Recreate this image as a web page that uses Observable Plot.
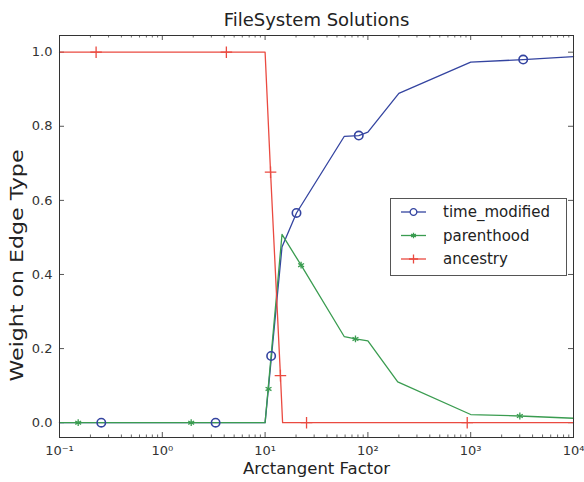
<!DOCTYPE html>
<html><head><meta charset="utf-8">
<script src="https://cdn.jsdelivr.net/npm/d3@7"></script>
<script src="https://cdn.jsdelivr.net/npm/@observablehq/plot@0.6"></script>
<style>body{margin:0;background:#fff;}</style>
</head><body><div id="chart"></div>
<script>
const title = "FileSystem Solutions";
const xLabel = "Arctangent Factor";
const yLabel = "Weight on Edge Type";
const seriesNames = ["time_modified", "parenthood", "ancestry"];
const seriesColors = ["#3444a0", "#3a9c50", "#ea4a40"];
const seriesSymbols = ["circle", "asterisk", "plus"];

// time_modified
const timeModifiedX = [0.1, 10, 14.6, 20.2, 59, 81.5, 100, 200, 1000, 3240, 10000];
const timeModifiedY = [0, 0, 0.474, 0.566, 0.773, 0.775, 0.784, 0.889, 0.973, 0.980, 0.988];
const timeModifiedMarkX = [0.255, 3.3, 11.45, 20.2, 81.5, 3240];
const timeModifiedMarkY = [0, 0, 0.18, 0.566, 0.775, 0.980];
// parenthood
const parenthoodX = [0.1, 10, 14.6, 22.4, 59, 75.7, 100, 195, 1000, 3006, 10000];
const parenthoodY = [0, 0, 0.508, 0.425, 0.232, 0.226, 0.221, 0.11, 0.022, 0.018, 0.012];
const parenthoodMarkX = [0.152, 1.91, 10.8, 22.4, 75.7, 3006];
const parenthoodMarkY = [0, 0, 0.091, 0.425, 0.226, 0.018];
// ancestry
const ancestryX = [0.1, 10, 11.3, 14.1, 14.8, 10000];
const ancestryY = [1, 1, 0.676, 0.127, 0, 0];
const ancestryMarkX = [0.227, 4.2, 11.3, 14.1, 25.3, 925];
const ancestryMarkY = [1, 1, 0.676, 0.127, 0, 0];

const xTickValues = [0.1, 1, 10, 100, 1000, 10000];
const xTickLabels = ["10\u207B\u00B9", "10\u2070", "10\u00B9", "10\u00B2", "10\u00B3", "10\u2074"];
const yTickValues = [0, 0.2, 0.4, 0.6, 0.8, 1.0];
const yTickLabels = ["0.0", "0.2", "0.4", "0.6", "0.8", "1.0"];

const W = 584, H = 482, mL = 59, mR = 11, mT = 35, mB = 45;
const innerW = W - mL - mR, innerH = H - mT - mB;

const lineSets = [[timeModifiedX, timeModifiedY], [parenthoodX, parenthoodY], [ancestryX, ancestryY]];
const markSets = [[timeModifiedMarkX, timeModifiedMarkY], [parenthoodMarkX, parenthoodMarkY], [ancestryMarkX, ancestryMarkY]];
const lineRows = [], markRows = [];
seriesNames.forEach((s, i) => {
  lineSets[i][0].forEach((x, j) => lineRows.push({series: s, x, y: lineSets[i][1][j]}));
  markSets[i][0].forEach((x, j) => markRows.push({series: s, x, y: markSets[i][1][j]}));
});

const minorX = [];
for (let k = 0; k < xTickValues.length - 1; k++) for (let m = 2; m < 10; m++) minorX.push(xTickValues[k] * m);

const tickColor = "#444";
const symR = {circle: 4.2, asterisk: 3.2, plus: 3.8};
const plot = Plot.plot({
  width: W, height: H,
  marginLeft: mL, marginRight: mR, marginTop: mT, marginBottom: mB,
  x: {type: "log", domain: [0.1, 10000]},
  y: {domain: [-0.04, 1.045]},
  color: {domain: seriesNames, range: seriesColors},
  style: {fontFamily: "DejaVu Sans, sans-serif", fontSize: "13px", color: "#333", background: "#fff", overflow: "visible"},
  marks: [
    Plot.tickX(minorX, {x: d => d, insetTop: innerH - 2.5, stroke: tickColor, strokeWidth: 0.8}),
    Plot.tickX(minorX, {x: d => d, insetBottom: innerH - 2.5, stroke: tickColor, strokeWidth: 0.8}),
    Plot.tickX(xTickValues, {x: d => d, insetTop: innerH - 5, stroke: tickColor, strokeWidth: 0.9}),
    Plot.tickX(xTickValues, {x: d => d, insetBottom: innerH - 5, stroke: tickColor, strokeWidth: 0.9}),
    Plot.tickY(yTickValues, {y: d => d, insetRight: innerW - 5, stroke: tickColor, strokeWidth: 0.9}),
    Plot.tickY(yTickValues, {y: d => d, insetLeft: innerW - 5, stroke: tickColor, strokeWidth: 0.9}),
    Plot.axisX({ticks: xTickValues, tickFormat: d => xTickLabels[xTickValues.indexOf(d)], tickSize: 0, tickPadding: 8, label: null, fontSize: 13}),
    Plot.axisY({ticks: yTickValues, tickFormat: d => yTickLabels[yTickValues.indexOf(d)], tickSize: 0, tickPadding: 7, label: null, fontSize: 13}),
    Plot.line(lineRows, {x: "x", y: "y", z: "series", stroke: "series", strokeWidth: 1.3}),
    Plot.dot(markRows.filter(d => d.series === seriesNames[0]), {x: "x", y: "y", symbol: "circle", stroke: "series", fill: "none", r: symR.circle, strokeWidth: 1.6}),
    Plot.dot(markRows.filter(d => d.series === seriesNames[1]), {x: "x", y: "y", symbol: "asterisk", stroke: "series", r: symR.asterisk, strokeWidth: 1.3}),
    Plot.dot(markRows.filter(d => d.series === seriesNames[2]), {x: "x", y: "y", symbol: "plus", stroke: "series", r: symR.plus, strokeWidth: 1.3}),
    Plot.frame({stroke: "#333", strokeWidth: 1}),
    Plot.text([title], {text: d => d, frameAnchor: "top", lineAnchor: "middle", textAnchor: "middle", dy: -15, fontSize: 18, fill: "#222"}),
    Plot.text([xLabel], {text: d => d, frameAnchor: "bottom", lineAnchor: "middle", textAnchor: "middle", dy: 31, fontSize: 16.5, fill: "#222"}),
    Plot.text([yLabel], {text: d => d, frameAnchor: "left", lineAnchor: "middle", textAnchor: "middle", dx: -42, dy: 29, rotate: -90, fontSize: 17, fill: "#222", className: "ylab"})
  ]
});
document.getElementById("chart").appendChild(plot);

const svg = d3.select(plot);
// matplotlib figure was stretched vertically: stretch the rotated y label to its reference length
svg.selectAll(".ylab text").attr("textLength", 232).attr("lengthAdjust", "spacingAndGlyphs");

// legend inside the plot area
const lg = svg.append("g").attr("font-family", "DejaVu Sans, sans-serif").attr("font-size", 15).attr("text-anchor", "start");
lg.append("rect").attr("x", 390.5).attr("y", 198.5).attr("width", 176).attr("height", 77)
  .attr("fill", "#fff").attr("stroke", "#555").attr("stroke-width", 1);
const symFns = {circle: d3.symbolCircle, asterisk: d3.symbolAsterisk, plus: d3.symbolPlus};
seriesNames.forEach((s, i) => {
  const cy = 212 + i * 23.5;
  lg.append("line").attr("x1", 401).attr("x2", 426).attr("y1", cy).attr("y2", cy)
    .attr("stroke", seriesColors[i]).attr("stroke-width", 1.3);
  const sym = seriesSymbols[i];
  const r = symR[sym] * 0.8;
  lg.append("path").attr("transform", `translate(413.5,${cy})`)
    .attr("d", d3.symbol(symFns[sym], Math.PI * r * r)())
    .attr("fill", sym === "circle" ? "#fff" : "none").attr("stroke", seriesColors[i]).attr("stroke-width", 1.3);
  lg.append("text").attr("x", 443).attr("y", cy).attr("dy", "0.35em").attr("fill", "#222").attr("text-anchor", "start").text(s);
});
</script>
</body></html>
